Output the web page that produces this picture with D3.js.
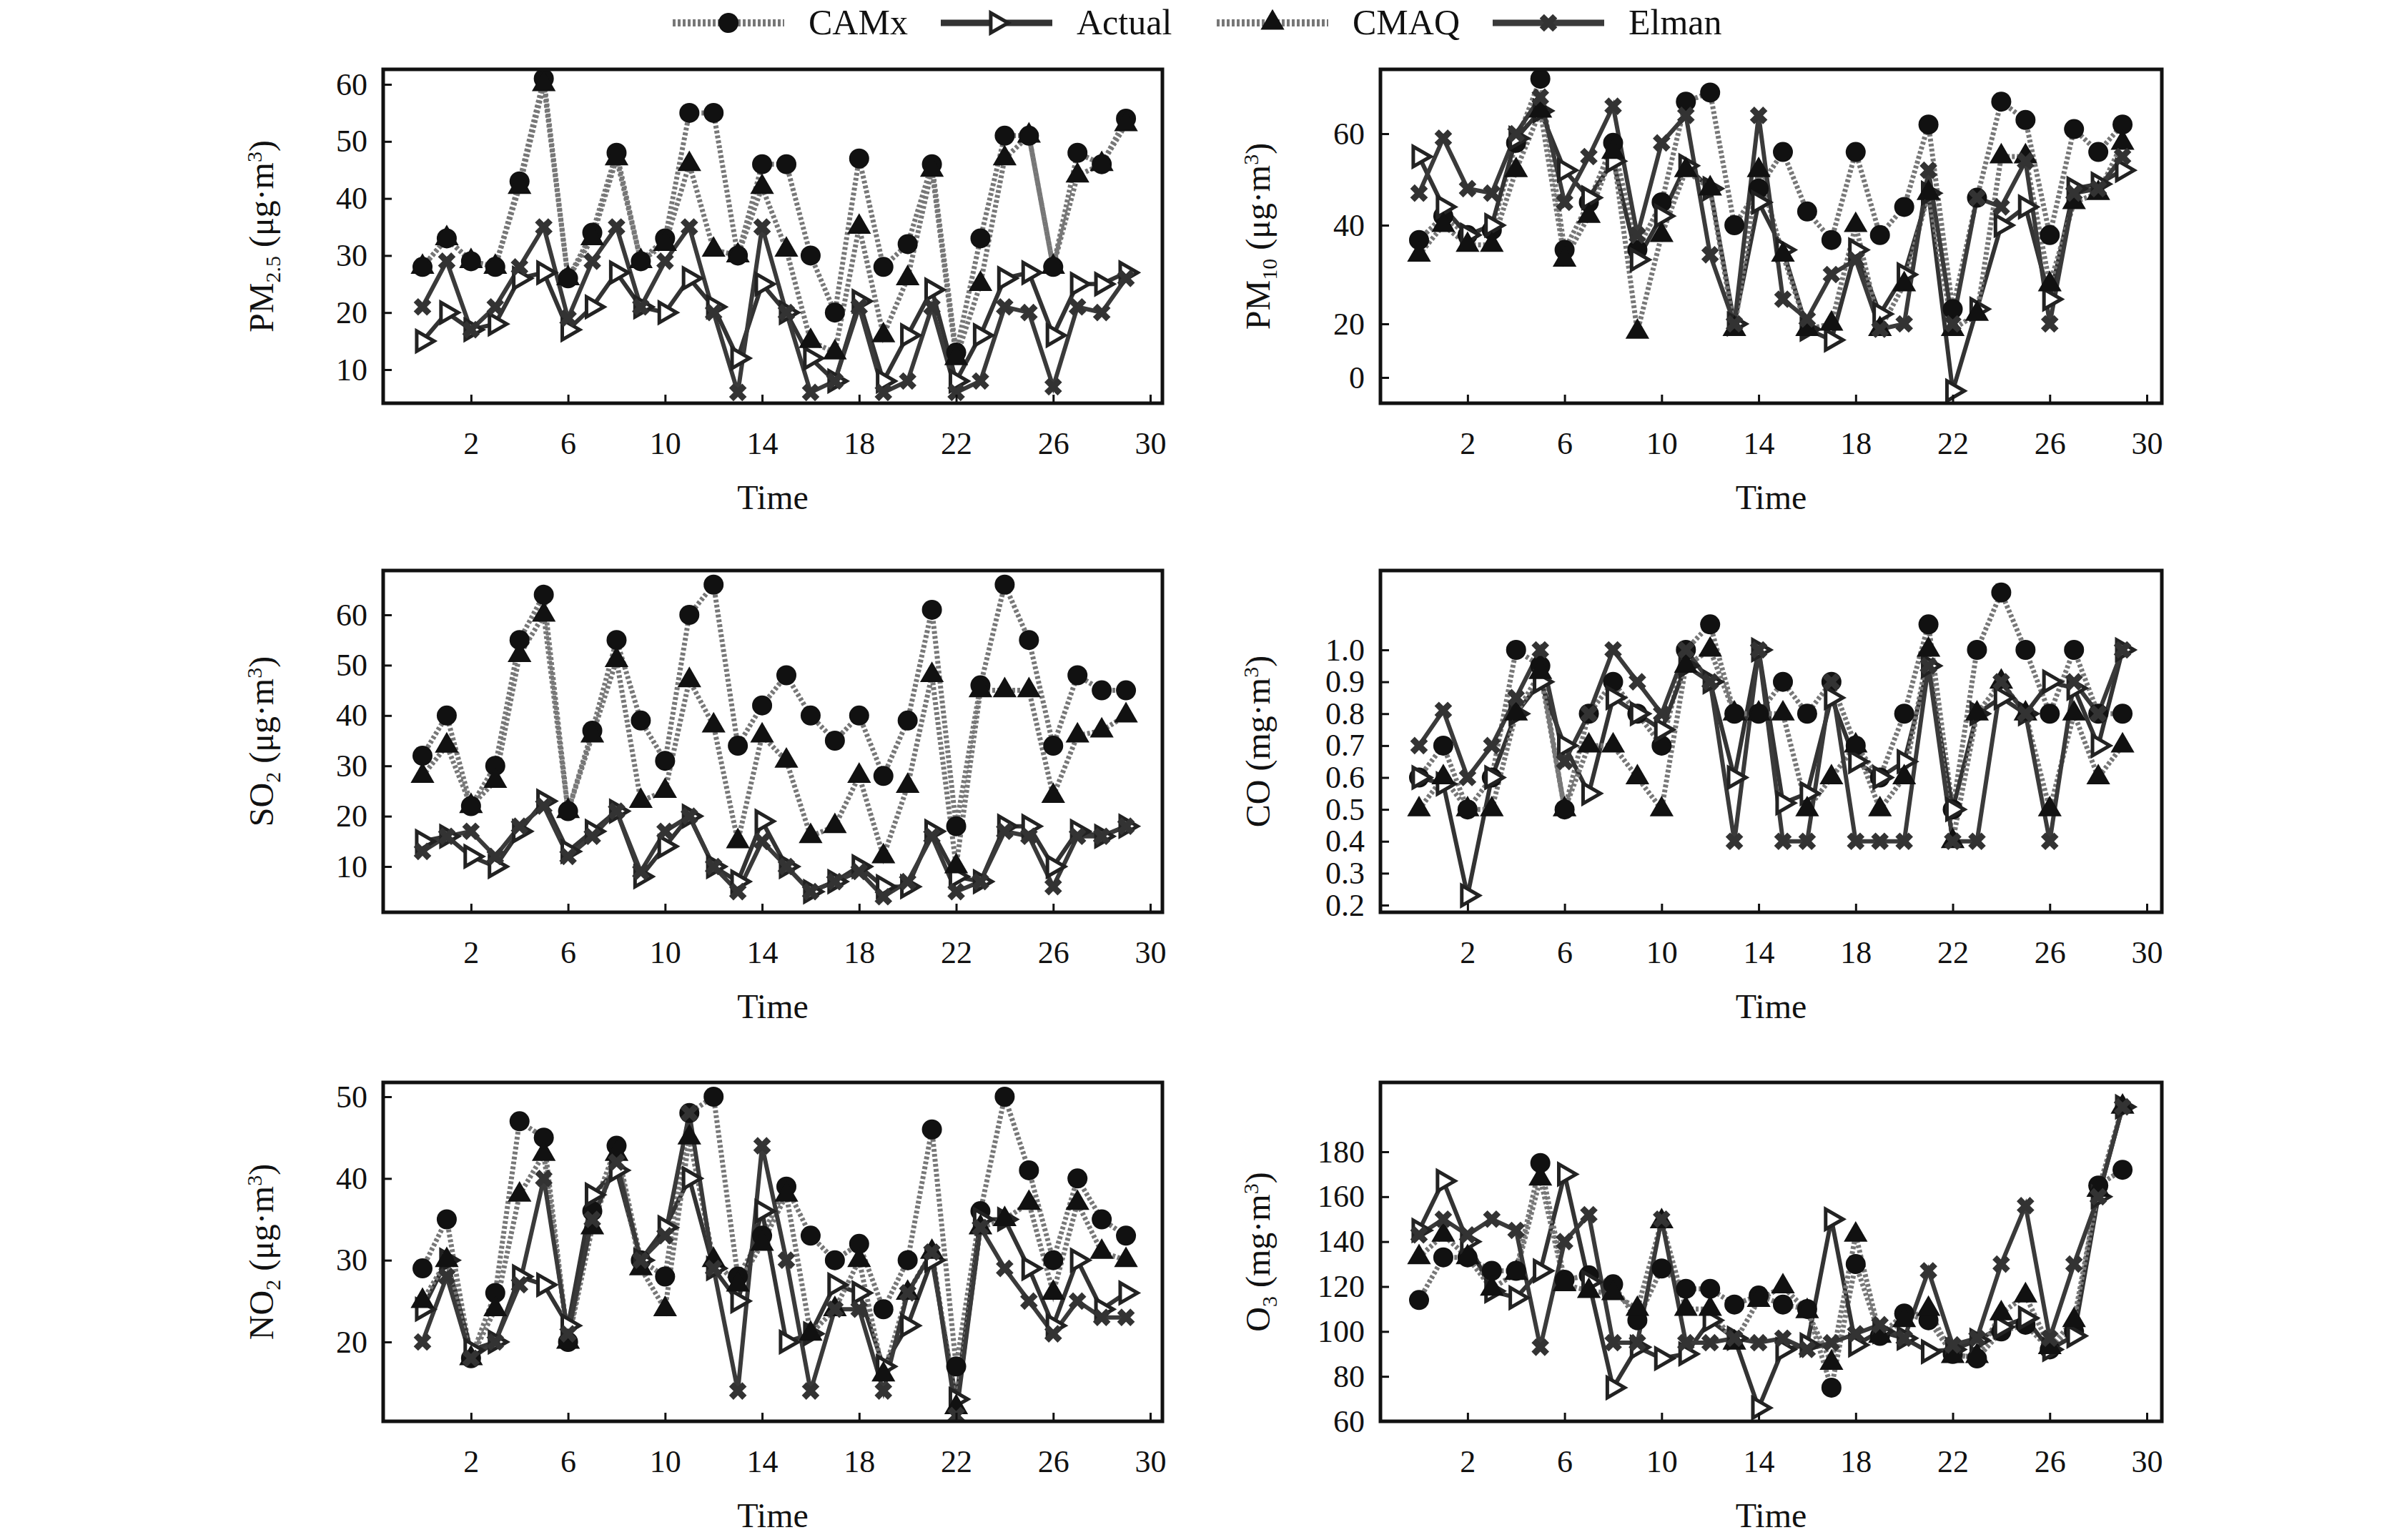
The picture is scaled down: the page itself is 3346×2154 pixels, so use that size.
<!DOCTYPE html>
<html><head><meta charset="utf-8">
<script src="https://cdn.jsdelivr.net/npm/d3@7"></script>
<style>body{margin:0;background:#fff}svg text{font-family:"Liberation Serif","DejaVu Serif",serif !important;fill:#111}</style>
</head><body><div id="chart"></div>
<script>
var seriesNames = ["CAMx", "Actual", "CMAQ", "Elman"];
var xTicks = [2, 6, 10, 14, 18, 22, 26, 30];

var pm25CAMx = [28,33,29,28,43,61,26,34,48,29,33,55,55,30,46,46,30,20,47,28,32,46,13,33,51,51,28,48,46,54];
var pm25CMAQ = [28,33,29,28,42,60,26,33,47,29,32,46,31,30,42,31,15,13,35,16,26,45,12,25,47,51,28,44,46,53];
var pm25Actual = [15,20,17,18,26,27,17,21,27,21,20,26,21,12,25,20,12,8,22,8,16,24,8,16,26,27,16,25,25,27];
var pm25Elman = [21,29,17,21,28,35,19,29,35,21,29,35,20,6,35,20,6,8,21,6,8,21,6,8,21,20,7,21,20,26];

var pm10CAMx = [37,42,38,39,58,72,35,45,58,35,45,67,69,40,48,56,43,37,56,38,44,62,23,46,67,63,38,61,56,62];
var pm10Actual = [55,44,38,40,59,65,52,46,54,33,42,53,48,20,45,35,18,14,35,22,30,47,-5,23,40,44,25,48,49,52];
var pm10CMAQ = [34,40,36,36,52,65,33,42,56,17,38,52,48,18,52,34,18,20,40,18,28,47,18,22,55,55,28,45,47,58];
var pm10Elman = [47,59,48,47,60,68,45,55,66,38,58,64,34,20,64,25,21,30,33,18,20,52,20,46,44,54,20,47,48,55];

var so2CAMx = [32,40,22,30,55,64,21,37,55,39,31,60,66,34,42,48,40,35,40,28,39,61,18,46,66,55,34,48,45,45];
var so2CMAQ = [28,34,22,27,52,60,21,36,51,23,25,47,38,15,36,31,16,18,28,12,26,48,10,45,45,45,24,36,37,40];
var so2Actual = [15,16,12,10,17,23,13,17,21,8,14,20,10,7,19,10,5,7,10,6,6,17,8,7,18,18,10,17,16,18];
var so2Elman = [13,16,17,12,18,22,12,16,21,9,17,20,10,5,15,10,5,7,9,4,7,16,5,7,17,16,6,16,16,18];

var coCAMx = [0.6,0.7,0.5,0.6,1.0,0.95,0.5,0.8,0.9,0.8,0.7,1.0,1.08,0.8,0.8,0.9,0.8,0.9,0.7,0.6,0.8,1.08,0.5,1.0,1.18,1.0,0.8,1.0,0.8,0.8];
var coCMAQ = [0.5,0.6,0.5,0.5,0.8,0.93,0.5,0.7,0.7,0.6,0.5,0.95,1.0,0.8,0.8,0.8,0.5,0.6,0.7,0.5,0.6,1.0,0.4,0.8,0.9,0.8,0.5,0.8,0.6,0.7];
var coActual = [0.6,0.58,0.23,0.6,0.8,0.9,0.7,0.55,0.85,0.8,0.75,0.95,0.9,0.6,1.0,0.52,0.55,0.85,0.65,0.6,0.65,0.95,0.5,0.8,0.85,0.8,0.9,0.88,0.7,1.0];
var coElman = [0.7,0.81,0.6,0.7,0.85,1.0,0.65,0.8,1.0,0.9,0.8,1.0,0.9,0.4,1.0,0.4,0.4,0.9,0.4,0.4,0.4,0.95,0.4,0.4,0.9,0.8,0.4,0.9,0.8,1.0];

var no2CAMx = [29,35,18,26,47,45,20,36,44,30,28,48,50,28,33,39,33,30,32,24,30,46,17,36,50,41,30,40,35,33];
var no2CMAQ = [25,30,18,24,38,43,20,34,43,29,24,45,30,27,32,38,21,24,30,16,26,31,12,34,35,37,26,37,31,30];
var no2Actual = [24,30,19,20,28,27,22,38,41,30,34,40,29,25,36,20,21,27,26,17,22,30,13,35,35,29,22,30,24,26];
var no2Elman = [20,28,18,20,27,40,21,35,42,30,33,48,29,14,44,30,14,24,24,14,26,31,11,34,29,25,21,25,23,23];

var o3CAMx = [114,133,133,127,127,175,123,125,121,105,128,119,119,112,116,112,110,75,130,98,108,105,90,88,100,103,92,100,165,172];
var o3CMAQ = [133,143,133,119,126,168,121,118,117,110,149,110,110,95,114,120,109,86,143,98,105,110,89,89,108,116,93,105,163,200];
var o3Actual = [145,167,140,118,115,127,170,122,75,93,88,90,105,97,66,92,94,150,94,100,97,91,92,96,102,106,92,98,160,200];
var o3Elman = [143,150,143,150,145,93,140,152,95,95,150,95,95,97,95,97,92,95,99,103,97,127,94,97,130,156,97,130,160,200];

var pm25Ticks = [10,20,30,40,50,60], pm10Ticks = [0,20,40,60], so2Ticks = [10,20,30,40,50,60];
var coTicks = [0.2,0.3,0.4,0.5,0.6,0.7,0.8,0.9,1.0], no2Ticks = [20,30,40,50], o3Ticks = [60,80,100,120,140,160,180];

var W = 3346, H = 2154;
var svg = d3.select("#chart").append("svg").attr("width", W).attr("height", H);

var cols = [{l: 536, r: 1626, x0: 591, x30: 1609, yl: 382}, {l: 1931, r: 3024, x0: 1985, x30: 3003, yl: 1776}];
var rows = [{t: 97, b: 564}, {t: 798, b: 1276}, {t: 1514, b: 1988}];

var panels = [
  {c: 0, r: 0, data: [pm25CAMx, pm25Actual, pm25CMAQ, pm25Elman], ticks: pm25Ticks, dom: [10, 60], rng: [517, 118], lab: ["PM", "2.5", "(μg·m", "3", ")"]},
  {c: 1, r: 0, data: [pm10CAMx, pm10Actual, pm10CMAQ, pm10Elman], ticks: pm10Ticks, dom: [0, 20, 40, 60], rng: [528, 453, 315, 187], lab: ["PM", "10", "(μg·m", "3", ")"]},
  {c: 0, r: 1, data: [so2CAMx, so2Actual, so2CMAQ, so2Elman], ticks: so2Ticks, dom: [10, 60], rng: [1212, 860], lab: ["SO", "2", "(μg·m", "3", ")"]},
  {c: 1, r: 1, data: [coCAMx, coActual, coCMAQ, coElman], ticks: coTicks, dom: [0.2, 1.0], rng: [1266, 909], lab: ["CO", "", "(mg·m", "3", ")"], fmt: d3.format(".1f")},
  {c: 0, r: 2, data: [no2CAMx, no2Actual, no2CMAQ, no2Elman], ticks: no2Ticks, dom: [20, 50], rng: [1877, 1534], lab: ["NO", "2", "(μg·m", "3", ")"]},
  {c: 1, r: 2, data: [o3CAMx, o3Actual, o3CMAQ, o3Elman], ticks: o3Ticks, dom: [60, 180], rng: [1988, 1611], lab: ["O", "3", "(mg·m", "3", ")"]}
];

var styles = [
  {dash: "4,3", stroke: "#777", w: 7, shape: "circle"},
  {dash: null, stroke: "#333", w: 6, shape: "tri"},
  {dash: "4,3", stroke: "#777", w: 7, shape: "triangle"},
  {dash: null, stroke: "#3a3a3a", w: 6, shape: "cross"}
];

function drawMarker(g, shape, x, y) {
  if (shape === "circle") {
    g.append("circle").attr("cx", x).attr("cy", y).attr("r", 14).attr("fill", "#111");
  } else if (shape === "triangle") {
    g.append("path").attr("transform", `translate(${x},${y})`)
      .attr("d", d3.symbol(d3.symbolTriangle, 480)()).attr("fill", "#111");
  } else if (shape === "tri") {
    g.append("path").attr("transform", `translate(${x},${y}) rotate(90)`)
      .attr("d", d3.symbol(d3.symbolTriangle, 340)()).attr("fill", "#fff").attr("stroke", "#222").attr("stroke-width", 5);
  } else {
    g.append("path").attr("transform", `translate(${x},${y}) rotate(45)`)
      .attr("d", d3.symbol(d3.symbolCross, 380)()).attr("fill", "#333");
  }
}

panels.forEach(function(p) {
  var c = cols[p.c], rw = rows[p.r];
  var x = d3.scaleLinear().domain([0, 30]).range([c.x0, c.x30]);
  var y = d3.scaleLinear().domain(p.dom).range(p.rng);
  var g = svg.append("g");

  g.append("clipPath").attr("id", "clip" + p.c + p.r).append("rect")
    .attr("x", c.l).attr("y", rw.t).attr("width", c.r - c.l).attr("height", rw.b - rw.t);

  var plot = g.append("g").attr("clip-path", `url(#clip${p.c}${p.r})`);
  p.data.forEach(function(vals, i) {
    var s = styles[i];
    var line = d3.line().x(function(d, j) { return x(j); }).y(function(d) { return y(d); });
    plot.append("path").datum(vals).attr("d", line).attr("fill", "none")
      .attr("stroke", s.stroke).attr("stroke-width", s.w).attr("stroke-dasharray", s.dash);
  });
  p.data.forEach(function(vals, i) {
    vals.forEach(function(v, j) { drawMarker(plot, styles[i].shape, x(j), y(v)); });
  });

  g.append("rect").attr("x", c.l).attr("y", rw.t).attr("width", c.r - c.l).attr("height", rw.b - rw.t)
    .attr("fill", "none").attr("stroke", "#111").attr("stroke-width", 5);

  var xa = g.append("g").attr("transform", `translate(0,${rw.b})`)
    .call(d3.axisBottom(x).tickValues(xTicks).tickSize(-12).tickPadding(40));
  var ya = g.append("g").attr("transform", `translate(${c.l},0)`)
    .call(d3.axisLeft(y).tickValues(p.ticks).tickSize(-12).tickPadding(22).tickFormat(p.fmt || d3.format("d")));
  [xa, ya].forEach(function(a) {
    a.attr("font-family", null);
    a.select(".domain").remove();
    a.selectAll("line").attr("stroke", "#111").attr("stroke-width", 3);
    a.selectAll("text").attr("font-size", 44);
  });

  g.append("text").attr("x", (c.l + c.r) / 2).attr("y", rw.b + 148).attr("text-anchor", "middle")
    .attr("font-size", 48).text("Time");

  var yl = g.append("text").attr("transform", `translate(${c.yl},${(rw.t + rw.b) / 2}) rotate(-90)`)
    .attr("text-anchor", "middle").attr("font-size", 48);
  yl.append("tspan").text(p.lab[0]);
  if (p.lab[1]) yl.append("tspan").attr("font-size", 30).attr("dy", 10).text(p.lab[1]);
  yl.append("tspan").attr("dy", p.lab[1] ? -10 : 0).text(" " + p.lab[2]);
  yl.append("tspan").attr("font-size", 30).attr("dy", -16).text(p.lab[3]);
  yl.append("tspan").attr("dy", 16).text(p.lab[4]);
});

// legend
var legX = [1019, 1394, 1780, 2166];
var leg = svg.append("g");
seriesNames.forEach(function(name, i) {
  var s = styles[i], cx = legX[i], cy = 32;
  leg.append("line").attr("x1", cx - 78).attr("x2", cx + 78).attr("y1", cy).attr("y2", cy)
    .attr("stroke", s.stroke).attr("stroke-width", s.w + 3).attr("stroke-dasharray", s.dash);
  drawMarker(leg, s.shape, cx, cy);
  leg.append("text").attr("x", cx + 112).attr("y", cy + 16).attr("font-size", 50).text(name);
});
</script></body></html>
